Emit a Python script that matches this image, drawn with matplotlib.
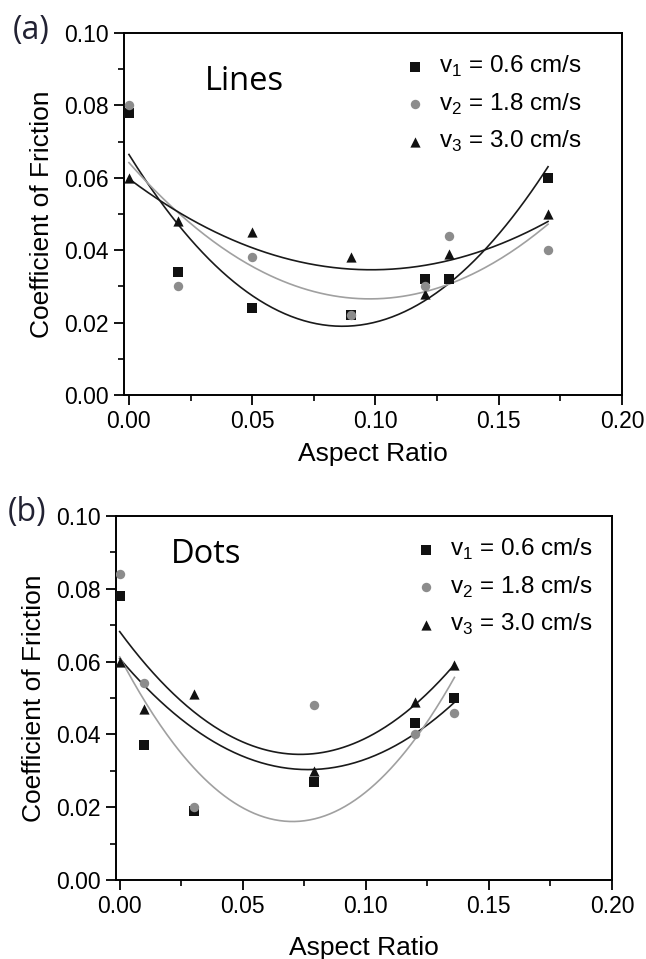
import numpy as np
import matplotlib.pyplot as plt
from matplotlib.ticker import MultipleLocator, FormatStrFormatter

# ---- panel (a): Lines ----
a_x = [0.0, 0.02, 0.05, 0.09, 0.12, 0.13, 0.17]
a_v1 = [0.078, 0.034, 0.024, 0.022, 0.032, 0.032, 0.060]
a_v2 = [0.080, 0.030, 0.038, 0.022, 0.030, 0.044, 0.040]
a_v3 = [0.060, 0.048, 0.045, 0.038, 0.028, 0.039, 0.050]

# fitted curves, points
a_fit1_x = [0.0, 0.02, 0.05, 0.09, 0.13, 0.17]
a_fit1_y = [0.067, 0.046, 0.028, 0.019, 0.031, 0.063]
a_fit2_x = [0.0, 0.02, 0.05, 0.10, 0.13, 0.17]
a_fit2_y = [0.065, 0.049, 0.036, 0.0265, 0.031, 0.047]
a_fit3_x = [0.0, 0.02, 0.05, 0.097, 0.13, 0.17]
a_fit3_y = [0.060, 0.050, 0.041, 0.0347, 0.037, 0.048]

# ---- panel (b): Dots ----
b_x = [0.0, 0.01, 0.03, 0.079, 0.12, 0.136]
b_v1 = [0.078, 0.037, 0.019, 0.027, 0.043, 0.050]
b_v2 = [0.084, 0.054, 0.020, 0.048, 0.040, 0.046]
b_v3 = [0.060, 0.047, 0.051, 0.030, 0.049, 0.059]

b_fit1_x = [0.0, 0.038, 0.073, 0.114, 0.136]
b_fit1_y = [0.0604, 0.0394, 0.0293, 0.0377, 0.049]
b_fit2_x = [0.0, 0.033, 0.069, 0.114, 0.136]
b_fit2_y = [0.0604, 0.031, 0.0145, 0.0335, 0.056]
b_fit3_x = [0.0, 0.029, 0.06, 0.079, 0.114, 0.136]
b_fit3_y = [0.068, 0.0476, 0.0348, 0.0348, 0.0453, 0.059]

labels = [r'v$_\mathregular{1}$ = 0.6 cm/s',
          r'v$_\mathregular{2}$ = 1.8 cm/s',
          r'v$_\mathregular{3}$ = 3.0 cm/s']

BLACK = '#111111'
GREY = '#8c8c8c'

plt.rcParams['font.family'] = ['Liberation Sans', 'DejaVu Sans']
plt.rcParams['mathtext.fontset'] = 'custom'
plt.rcParams['mathtext.rm'] = 'Liberation Sans'


def fit_line(ax, fx, fy, color):
    coef = np.polyfit(fx, fy, 2)
    xs = np.linspace(min(fx), max(fx), 200)
    ax.plot(xs, np.polyval(coef, xs), color=color, lw=1.2, zorder=2)


def draw_panel(ax, x, v1, v2, v3, fits, fit_colors, name, name_pos, letter, letter_pos,
               legend_anchor, xmin):
    for (fx, fy), c in zip(fits, fit_colors):
        fit_line(ax, fx, fy, c)

    ax.scatter(x, v1, marker='s', s=46, color=BLACK, label=labels[0], zorder=3, lw=0)
    ax.scatter(x, v2, marker='o', s=46, color=GREY, label=labels[1], zorder=4, lw=0)
    ax.scatter(x, v3, marker='^', s=54, color=BLACK, label=labels[2], zorder=3, lw=0)

    ax.set_xlim(xmin, 0.20)
    ax.set_ylim(0.0, 0.10)
    ax.xaxis.set_major_locator(MultipleLocator(0.05))
    ax.xaxis.set_minor_locator(MultipleLocator(0.025))
    ax.yaxis.set_major_locator(MultipleLocator(0.02))
    ax.yaxis.set_minor_locator(MultipleLocator(0.01))
    ax.xaxis.set_major_formatter(FormatStrFormatter('%.2f'))
    ax.yaxis.set_major_formatter(FormatStrFormatter('%.2f'))
    ax.tick_params(which='major', direction='out', length=7, width=1.3,
                   labelsize=16.5, pad=4, top=False, right=False)
    ax.tick_params(which='minor', direction='out', length=4, width=1.2,
                   top=False, right=False)
    for sp in ax.spines.values():
        sp.set_linewidth(1.4)

    ax.set_ylabel('Coefficient of Friction', fontsize=19, labelpad=7)

    ax.text(name_pos[0], name_pos[1], name, transform=ax.transAxes,
            fontsize=23.5, family='Open Sans', ha='left', va='baseline')
    ax.text(letter_pos[0], letter_pos[1], letter, transform=ax.figure.transFigure,
            fontsize=23, family='Open Sans', ha='center', va='center', color='#222233')

    ax.legend(loc='upper left', bbox_to_anchor=legend_anchor, frameon=False,
              fontsize=17.5, handletextpad=0.5, labelspacing=0.5, borderpad=0,
              handlelength=1.0, scatterpoints=1)


fig = plt.figure(figsize=(6.46, 9.59), dpi=100)
W, H = 646, 959

ax_a = fig.add_axes([124 / W, 1 - 395 / H, 498 / W, 362 / H])
ax_b = fig.add_axes([116 / W, 1 - 880 / H, 496 / W, 364 / H])

draw_panel(ax_a, a_x, a_v1, a_v2, a_v3,
           [(a_fit1_x, a_fit1_y), (a_fit2_x, a_fit2_y), (a_fit3_x, a_fit3_y)],
           ['#1a1a1a', '#a0a0a0', '#1a1a1a'],
           'Lines', (0.163, 0.8425), '(a)', (31 / W, 1 - 31 / H),
           (0.535, 0.975), -0.002)
ax_a.set_xlabel('Aspect Ratio', fontsize=19, labelpad=6)

draw_panel(ax_b, b_x, b_v1, b_v2, b_v3,
           [(b_fit1_x, b_fit1_y), (b_fit2_x, b_fit2_y), (b_fit3_x, b_fit3_y)],
           ['#1a1a1a', '#a0a0a0', '#1a1a1a'],
           'Dots', (0.111, 0.871), '(b)', (27 / W, 1 - 513 / H),
           (0.575, 0.975), -0.0015)
ax_b.set_xlabel('Aspect Ratio', fontsize=19, labelpad=13)

plt.savefig('out.png', dpi=100)
plt.close()
